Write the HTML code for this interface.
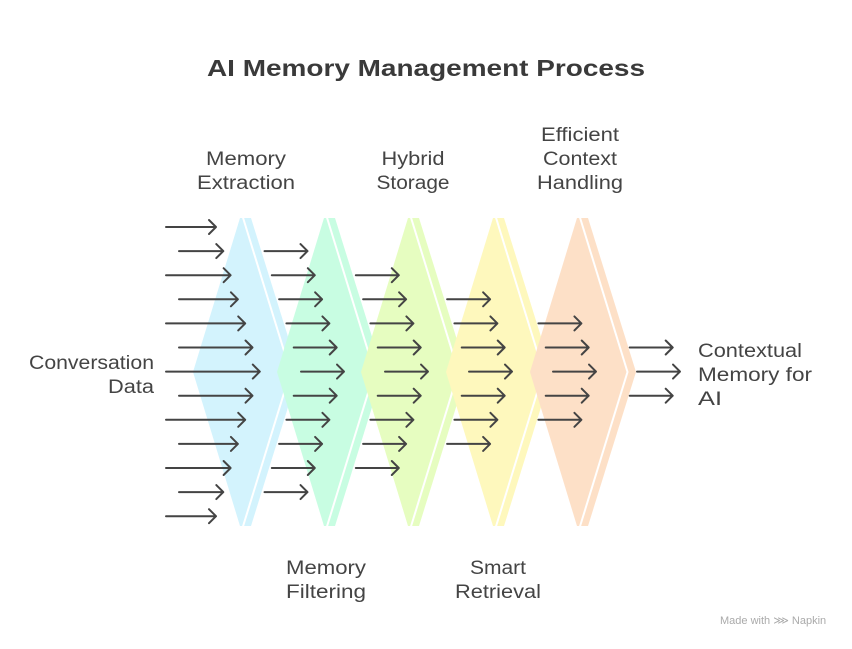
<!DOCTYPE html>
<html><head><meta charset="utf-8"><style>
html,body{margin:0;padding:0;background:#fff;width:852px;height:649px;overflow:hidden}
svg text{font-family:"Liberation Sans",sans-serif;fill:#444}
</style></head><body>
<svg id="s" width="852" height="649" viewBox="0 0 852 649" xmlns="http://www.w3.org/2000/svg">
<text x="426" y="76" text-anchor="middle" font-size="23" font-weight="bold" fill="#3a3a3a" textLength="438" lengthAdjust="spacingAndGlyphs" style="fill:#3a3a3a">AI Memory Management Process</text>
<g font-size="19" text-anchor="middle">
<text x="246" y="165" textLength="80" lengthAdjust="spacingAndGlyphs">Memory</text>
<text x="246" y="189" textLength="98" lengthAdjust="spacingAndGlyphs">Extraction</text>
<text x="413" y="165" textLength="63" lengthAdjust="spacingAndGlyphs">Hybrid</text>
<text x="413" y="189" textLength="73" lengthAdjust="spacingAndGlyphs">Storage</text>
<text x="580" y="141" textLength="78" lengthAdjust="spacingAndGlyphs">Efficient</text>
<text x="580" y="165" textLength="74" lengthAdjust="spacingAndGlyphs">Context</text>
<text x="580" y="189" textLength="86" lengthAdjust="spacingAndGlyphs">Handling</text>
<text x="326" y="574" textLength="80" lengthAdjust="spacingAndGlyphs">Memory</text>
<text x="326" y="598" textLength="80" lengthAdjust="spacingAndGlyphs">Filtering</text>
<text x="498" y="574" textLength="56" lengthAdjust="spacingAndGlyphs">Smart</text>
<text x="498" y="598" textLength="86" lengthAdjust="spacingAndGlyphs">Retrieval</text>
</g>
<g font-size="19" text-anchor="end">
<text x="154" y="369" textLength="125" lengthAdjust="spacingAndGlyphs">Conversation</text>
<text x="154" y="393" textLength="46" lengthAdjust="spacingAndGlyphs">Data</text>
</g>
<g font-size="19">
<text x="698" y="357" textLength="104" lengthAdjust="spacingAndGlyphs">Contextual</text>
<text x="698" y="381" textLength="114" lengthAdjust="spacingAndGlyphs">Memory for</text>
<text x="698" y="405" textLength="24" lengthAdjust="spacingAndGlyphs">AI</text>
</g>
<text x="720" y="624" font-size="11" style="fill:#aaa">Made with ⋙ Napkin</text>
<g id="shapes"></g>
<g id="arrows" stroke="#444" stroke-width="2" fill="none" stroke-linecap="round" stroke-linejoin="round"></g>
</svg>
<script>
var NS="http://www.w3.org/2000/svg";
var sh=document.getElementById("shapes"),ar=document.getElementById("arrows");
var tops=[240,324,408,493,577],cols=["#d3f3fd","#c8fde2","#e6fdc0","#fef8bd","#fde0c7"];
tops.forEach(function(t,i){
 var p=document.createElementNS(NS,"polygon");
 p.setAttribute("points",[t,218,t+11,218,t+59,372,t+11,526,t,526,t-47,372].join(" "));
 p.setAttribute("fill",cols[i]);sh.appendChild(p);
 var l=document.createElementNS(NS,"polyline");
 l.setAttribute("points",[t+2.5,216,t+50.5,372,t+2.5,528].join(" "));
 l.setAttribute("fill","none");l.setAttribute("stroke","#fff");l.setAttribute("stroke-width","2");sh.appendChild(l);
});
function arrow(x1,x2,y){
 var p=document.createElementNS(NS,"path");
 p.setAttribute("d","M"+x1+" "+y+"H"+x2+"M"+(x2-7)+" "+(y-7)+"L"+x2+" "+y+"L"+(x2-7)+" "+(y+7));
 ar.appendChild(p);
}
for(var k=0;k<13;k++){
 var y=227+k*24.1,d=6-Math.abs(6-k);
 arrow(k%2?179:166,216+7.3*d,y);
}
var cstart=[301,385,469,553,637];
for(var s=0;s<5;s++){
 for(var k=s+1;k<=11-s;k++){
  var y=227+k*24.1,d=Math.abs(6-k);
  var st=cstart[s]-7.3*d;
  arrow(st,st+43,y);
 }
}
</script>
</body></html>
